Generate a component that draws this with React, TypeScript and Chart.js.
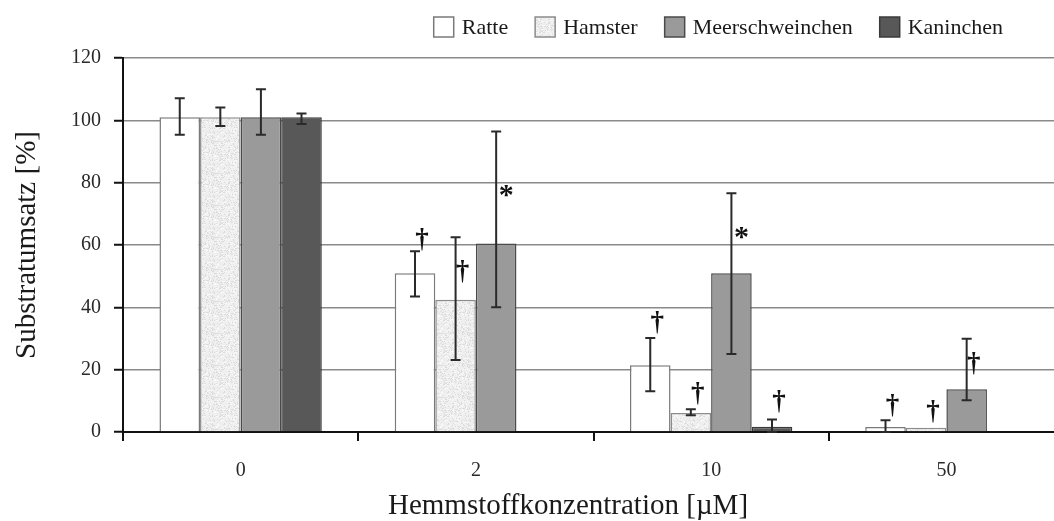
import React, { useEffect, useRef } from "react";
import { Chart, registerables } from "chart.js";

Chart.register(...registerables);

const categories = ["0", "2", "10", "50"];
const seriesNames = ["Ratte", "Hamster", "Meerschweinchen", "Kaninchen"];

const ratte = [101, 50.9, 21.4, 1.6];
const hamster = [101, 42.4, 6.1, 1.4];
const meerschweinchen = [101, 60.5, 50.9, 13.7];
const kaninchen = [101, null, 1.7, null];

const ratteHi = [107.1, 58.0, 30.2, 3.8];
const ratteLo = [95.4, 43.5, 13.1, 0];
const hamsterHi = [104.1, 62.5, 7.3, null];
const hamsterLo = [98.2, 23.1, 5.4, null];
const meerHi = [110.0, 96.4, 76.6, 29.9];
const meerLo = [95.4, 40.0, 25.0, 10.2];
const kaninHi = [102.2, null, 4.0, null];
const kaninLo = [98.8, null, 0, null];

const ratteMarks = ["", "†", "†", "†"];
const ratteMarkAt = [null, 61.9, 35.2, 8.6];
const hamsterMarks = ["", "†", "†", "†"];
const hamsterMarkAt = [null, 51.5, 12.3, 6.7];
const meerMarks = ["", "*", "*", "†"];
const meerMarkAt = [null, 77.3, 63.7, 22.1];
const kaninMarks = ["", "", "†", ""];
const kaninMarkAt = [null, null, 9.7, null];

const yTicks = [0, 20, 40, 60, 80, 100, 120];

const xTitle = "Hemmstoffkonzentration [µM]";
const yTitle = "Substratumsatz [%]";

const SERIF = "'Liberation Serif', 'Times New Roman', serif";

function makeSpeckle(): CanvasPattern | string {
  const n = 32;
  const c = document.createElement("canvas");
  c.width = n;
  c.height = n;
  const g = c.getContext("2d");
  if (!g) return "#ebebeb";
  g.fillStyle = "#efefef";
  g.fillRect(0, 0, n, n);
  for (let i = 0; i < n; i++) {
    for (let j = 0; j < n; j++) {
      let h = (i * 374761393 + j * 668265263) | 0;
      h = Math.imul(h ^ (h >>> 13), 1274126177);
      h = (h ^ (h >>> 16)) >>> 0;
      const r = h % 100;
      if (r < 20) {
        g.fillStyle = "#dcdcdc";
        g.fillRect(i, j, 1, 1);
      } else if (r < 30) {
        g.fillStyle = "#f9f9f9";
        g.fillRect(i, j, 1, 1);
      }
    }
  }
  const p = g.createPattern(c, "repeat");
  return p || "#ebebeb";
}

const errorBarPlugin = {
  id: "errorBars",
  afterDatasetsDraw(chart: any) {
    const ctx = chart.ctx;
    const y = chart.scales.y;
    chart.data.datasets.forEach((ds: any, di: number) => {
      const meta = chart.getDatasetMeta(di);
      meta.data.forEach((bar: any, i: number) => {
        const hi = ds.errHi[i];
        const lo = ds.errLo[i];
        if (hi == null || lo == null) return;
        const x = bar.x;
        const yh = y.getPixelForValue(hi);
        const yl = y.getPixelForValue(lo);
        ctx.save();
        ctx.strokeStyle = "#2a2a2a";
        ctx.lineWidth = 2;
        ctx.beginPath();
        ctx.moveTo(x, yh);
        ctx.lineTo(x, yl);
        ctx.moveTo(x - 5, yh);
        ctx.lineTo(x + 5, yh);
        ctx.moveTo(x - 5, yl);
        ctx.lineTo(x + 5, yl);
        ctx.stroke();
        ctx.restore();
      });
    });
    chart.data.datasets.forEach((ds: any, di: number) => {
      const meta = chart.getDatasetMeta(di);
      ds.marks.forEach((m: string, i: number) => {
        if (!m || ds.markAt[i] == null) return;
        const bar = meta.data[i];
        if (!bar) return;
        const cy = y.getPixelForValue(ds.markAt[i]);
        ctx.save();
        ctx.fillStyle = "#111";
        ctx.font = m === "*" ? `bold 30px ${SERIF}` : `bold 27px ${SERIF}`;
        const mt = ctx.measureText(m);
        const asc = mt.actualBoundingBoxAscent;
        const desc = mt.actualBoundingBoxDescent;
        ctx.textAlign = "center";
        ctx.textBaseline = "alphabetic";
        const dx = m === "*" ? 10 : 7;
        ctx.fillText(m, bar.x + dx, cy + (asc - desc) / 2);
        ctx.restore();
      });
    });
  },
};

const decorPlugin = {
  id: "decor",
  afterDraw(chart: any) {
    const ctx = chart.ctx;
    ctx.save();
    ctx.font = `22px ${SERIF}`;
    const box = 20;
    const textGap = 8;
    const itemGap = 27;
    const rightEnd = 1003;
    const cy = 27;
    const items = chart.data.datasets.map((ds: any) => ({
      label: ds.label,
      fill: ds.backgroundColor,
      stroke: ds.borderColor,
      w: box + textGap + ctx.measureText(ds.label).width,
    }));
    const total =
      items.reduce((s: number, it: any) => s + it.w, 0) + itemGap * (items.length - 1);
    let x = rightEnd - total;
    items.forEach((it: any) => {
      ctx.fillStyle = it.fill;
      ctx.fillRect(x, cy - box / 2, box, box);
      ctx.strokeStyle = it.stroke;
      ctx.lineWidth = 1.5;
      ctx.strokeRect(x, cy - box / 2, box, box);
      ctx.fillStyle = "#1a1a1a";
      ctx.textAlign = "left";
      ctx.textBaseline = "middle";
      ctx.fillText(it.label, x + box + textGap, cy + 1);
      x += it.w + itemGap;
    });
    ctx.font = `29px ${SERIF}`;
    ctx.fillStyle = "#1a1a1a";
    ctx.textAlign = "center";
    ctx.textBaseline = "middle";
    ctx.fillText(xTitle, chart.chartArea.left + 445, 506);
    ctx.restore();
  },
};

export default function App() {
  const ref = useRef<HTMLCanvasElement>(null);
  useEffect(() => {
    if (!ref.current) return;
    const speckle = makeSpeckle();
    const chart = new Chart(ref.current, {
      type: "bar",
      data: {
        labels: categories,
        datasets: [
          {
            label: seriesNames[0],
            data: ratte,
            backgroundColor: "#ffffff",
            borderColor: "#7a7a7a",
            borderWidth: 1.5,
            errHi: ratteHi,
            errLo: ratteLo,
            marks: ratteMarks,
            markAt: ratteMarkAt,
          } as any,
          {
            label: seriesNames[1],
            data: hamster,
            backgroundColor: speckle,
            borderColor: "#8c8c8c",
            borderWidth: 1.5,
            errHi: hamsterHi,
            errLo: hamsterLo,
            marks: hamsterMarks,
            markAt: hamsterMarkAt,
          } as any,
          {
            label: seriesNames[2],
            data: meerschweinchen,
            backgroundColor: "#9a9a9a",
            borderColor: "#4a4a4a",
            borderWidth: 1.5,
            errHi: meerHi,
            errLo: meerLo,
            marks: meerMarks,
            markAt: meerMarkAt,
          } as any,
          {
            label: seriesNames[3],
            data: kaninchen,
            backgroundColor: "#585858",
            borderColor: "#3a3a3a",
            borderWidth: 1.5,
            errHi: kaninHi,
            errLo: kaninLo,
            marks: kaninMarks,
            markAt: kaninMarkAt,
          } as any,
        ],
      },
      options: {
        animation: false,
        responsive: false,
        devicePixelRatio: 1,
        layout: { padding: { top: 58, left: 0, right: 0, bottom: 0 } },
        datasets: {
          bar: { categoryPercentage: 0.69, barPercentage: 1 },
        },
        plugins: {
          legend: { display: false },
          tooltip: { enabled: false },
        },
        scales: {
          x: {
            type: "category",
            grid: {
              offset: true,
              drawOnChartArea: false,
              drawTicks: true,
              tickLength: 9,
              tickColor: "#111",
              lineWidth: 2,
            },
            border: { display: true, color: "#111", width: 2 },
            ticks: {
              font: { family: SERIF, size: 20 },
              color: "#2a2a2a",
              padding: 18,
            },
            title: { display: false },
            afterFit: (s: any) => {
              s.height = 89;
            },
          },
          y: {
            min: 0,
            max: 120,
            afterBuildTicks: (s: any) => {
              s.ticks = yTicks.map((v) => ({ value: v }));
            },
            grid: {
              color: "#8a8a8a",
              lineWidth: 1.5,
              drawTicks: true,
              tickLength: 9,
              tickColor: "#111",
              tickWidth: 2,
            },
            border: { display: true, color: "#111", width: 2 },
            ticks: {
              font: { family: SERIF, size: 20 },
              color: "#2a2a2a",
              padding: 13,
            },
            title: {
              display: true,
              text: yTitle,
              font: { family: SERIF, size: 29, lineHeight: 1 },
              color: "#1a1a1a",
              padding: { top: 13, bottom: 0 },
            },
            afterFit: (s: any) => {
              s.width = 123;
            },
          },
        },
      },
      plugins: [errorBarPlugin, decorPlugin],
    } as any);
    return () => chart.destroy();
  }, []);
  return (
    <canvas
      ref={ref}
      width={1064}
      height={521}
      style={{ position: "fixed", left: 0, top: 0, width: 1064, height: 521, background: "#fff" }}
    />
  );
}
